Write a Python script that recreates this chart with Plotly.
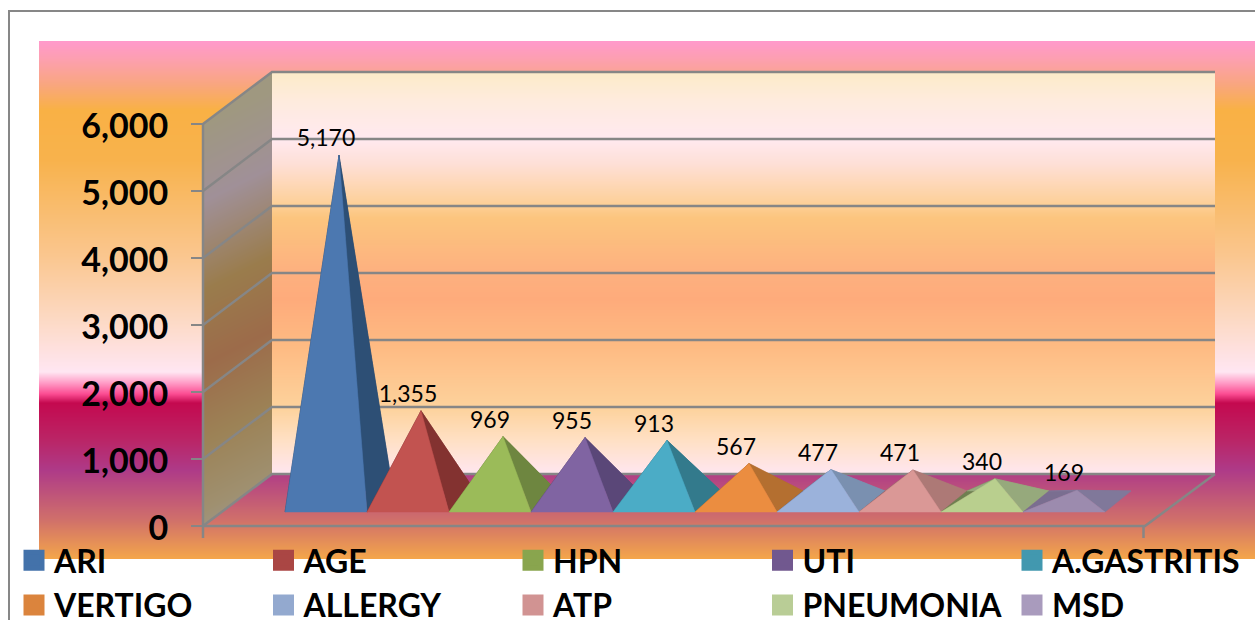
import plotly.graph_objects as go

# ---- data ----
categories = ["ARI", "AGE", "HPN", "UTI", "A.GASTRITIS", "VERTIGO", "ALLERGY", "ATP", "PNEUMONIA", "MSD"]
values = [5170, 1355, 969, 955, 913, 567, 477, 471, 340, 169]
y_ticks = [0, 1000, 2000, 3000, 4000, 5000, 6000]
front_colors = ["#4C78B0", "#C25350", "#9BBB59", "#8064A2", "#4BACC6", "#EB8D40", "#9BB2DB", "#DA9896", "#B9CF8E", "#9C8BAE"]
side_colors = ["#2D4F75", "#833230", "#6E8640", "#5A4778", "#337A8C", "#B46F30", "#7A90B0", "#AD7976", "#96A97C", "#80789A"]
back_colors = ["#263F5E", "#6A2826", "#5A6E34", "#4A3A62", "#2A6473", "#915A27", "#5F7390", "#8C6160", "#6E8050", "#7A6E90"]
legend_colors = ["#4372AA", "#AA4644", "#89A54E", "#71588F", "#4298AF", "#DB843D", "#93A9CF", "#D19392", "#B9CD96", "#A99BBD"]

W, H = 1255, 620
PX_CAT = 82.0      # pixels per category
PX_VAL = 0.067     # pixels per value unit
X0_PX = 326.0      # pixel of first category centre
Y0_PX = 526.0      # pixel of value 0 on the front plane


def X(px):
    return (px - X0_PX) / PX_CAT


def Y(py):
    return (Y0_PX - py) / PX_VAL


GRID = "#868686"
fig = go.Figure()


def scale(stops):
    a, b = stops[0][0], stops[-1][0]
    return [[(p - a) / (b - a), c] for p, c in stops]


def band(x0, x1, stops):
    a, b = stops[0][0], stops[-1][0]
    n = int(b - a)
    fig.add_trace(go.Heatmap(
        x=[X(x0), X(x1)], y=[Y(a + k) for k in range(n + 1)],
        z=[[(k + 0.5) / n] for k in range(n)], zmin=0, zmax=1,
        colorscale=scale(stops), showscale=False, hoverinfo="skip", zsmooth=False))


# page background band
band(39, 1255, [(41, "#FF99CC"), (58, "#FD9FB2"), (85, "#F9A67E"), (110, "#F9B145"), (160, "#F8B24C"),
                (255, "#FAC68E"), (315, "#FCD8C0"), (372, "#FFE6F2"), (383, "#FF9CC6"), (394, "#FB4C92"),
                (403, "#C4094F"), (440, "#BA2566"), (470, "#AE3A88"), (520, "#D0706A"), (559, "#F4A64A")])

# back wall
band(272, 1215, [(72, "#FCEBC8"), (100, "#FEEBDD"), (139, "#FFE9F0"), (165, "#FEDFD5"), (205, "#FDCF96"),
                 (218, "#FCC57E"), (273, "#FDB07F"), (300, "#FEAB7B"), (345, "#FEBA82"), (408, "#FDD29C"),
                 (440, "#FFE0C4"), (474, "#FFE6F0")])

# side wall: diagonal gradient clipped to the parallelogram
side_stops = [(124, "#9F9880"), (201, "#A09098"), (290, "#9A7C4C"), (364, "#9C6B4A"), (440, "#9C8256"), (510, "#9F9070"), (560, "#A09A9A")]
sx = list(range(203, 273))
sy = list(range(72, 527))
sz = []
for py in sy[:-1]:
    row = []
    for px in sx[:-1]:
        f = (px + 0.5 - 203) / 69.0
        if 124 - 52 * f <= py + 0.5 <= 526 - 52 * f:
            row.append(min(max((py + 0.5 * (px - 203) - 124) / (560 - 124), 0), 1))
        else:
            row.append(None)
    sz.append(row)
fig.add_trace(go.Heatmap(x=[X(p) for p in sx], y=[Y(p) for p in sy], z=sz, zmin=0, zmax=1,
                         colorscale=scale(side_stops), showscale=False, hoverinfo="skip", zsmooth=False))

# walls and gridlines
DX, DY = 69.0, 52.0
FX0, FX1 = 203.0, 1145.0
for v in y_ticks:
    py = Y0_PX - v * PX_VAL
    fig.add_trace(go.Scatter(
        x=[X(FX0), X(FX0 + DX), X(FX1 + DX + 1)], y=[Y(py), Y(py - DY), Y(py - DY)],
        mode="lines", line=dict(color=GRID, width=2.5), showlegend=False, hoverinfo="skip"))
edges = [
    ([FX0, FX0], [Y0_PX, Y0_PX - 6000 * PX_VAL]),
    ([FX0, FX0], [Y0_PX, 538]),
    ([FX1 - 1.5, FX1 - 1.5], [Y0_PX, 538]),
    ([FX0, FX1, FX1 + DX + 1], [Y0_PX, Y0_PX, Y0_PX - DY]),
]
for ex, ey in edges:
    fig.add_trace(go.Scatter(x=[X(p) for p in ex], y=[Y(p) for p in ey], mode="lines",
                             line=dict(color=GRID, width=2.5), showlegend=False, hoverinfo="skip"))

# pyramids
HALF = 0.5
DEPTH_X = 26 / PX_CAT
DEPTH_Y = 21 / PX_VAL
BASE = (Y0_PX - 512) / PX_VAL


def face(xs, ys, color):
    fig.add_trace(go.Scatter(x=xs, y=ys, mode="lines", fill="toself", fillcolor=color,
                             line=dict(color=color, width=0.5), showlegend=False, hoverinfo="skip"))


for i, v in enumerate(values):
    l, r = i - HALF, i + HALF
    ax, ay = i + DEPTH_X / 2, BASE + DEPTH_Y / 2 + v
    bl, br = l + DEPTH_X, r + DEPTH_X
    by = BASE + DEPTH_Y
    face([l, bl, ax, l], [BASE, by, ay, BASE], back_colors[i])
    face([bl, br, ax, bl], [by, by, ay, by], side_colors[i])
    face([r, br, ax, r], [BASE, by, ay, BASE], side_colors[i])
    face([l, r, ax, l], [BASE, BASE, ay, BASE], front_colors[i])

# data labels
fig.add_trace(go.Scatter(
    x=list(range(len(values))),
    y=[BASE + DEPTH_Y / 2 + v + 14.5 / PX_VAL for v in values],
    text=[f"{v:,}" for v in values], mode="text", textposition="middle center",
    textfont=dict(family="Lato", size=23, color="#000000"), showlegend=False, hoverinfo="skip"))

# legend entries
for name, color in zip(categories, legend_colors):
    fig.add_trace(go.Scatter(x=[None], y=[None], mode="markers", name=name,
                             marker=dict(symbol="square", size=16, color=color, line=dict(color=color, width=5))))

fig.update_layout(
    width=W, height=H, autosize=False,
    margin=dict(l=0, r=0, t=0, b=0, pad=0, autoexpand=False),
    paper_bgcolor="#FFFFFF", plot_bgcolor="rgba(0,0,0,0)",
    xaxis=dict(range=[X(0), X(W)], visible=False, domain=[0, 1], fixedrange=True),
    yaxis=dict(range=[Y(H), Y(0)], domain=[0, 1], anchor="free", position=203 / W, side="left",
               tickmode="array", tickvals=y_ticks, tickformat=",", showgrid=False, zeroline=False,
               showline=False, ticks="outside", ticklen=12, tickwidth=2, tickcolor=GRID,
               ticklabelstandoff=16, ticklabelshift=2,
               tickfont=dict(family="Lato", size=34, color="#000000", weight="bold"), fixedrange=True),
    legend=dict(orientation="h", x=14 / W, xanchor="left", y=1 - 533 / H, yanchor="top",
                entrywidth=204.5, entrywidthmode="pixels", font=dict(family="Lato", size=32, color="#000000", weight="bold"),
                bgcolor="rgba(0,0,0,0)", borderwidth=0, traceorder="normal", itemclick=False, itemdoubleclick=False),
    shapes=[dict(type="rect", xref="paper", yref="paper", x0=9 / W, x1=1.01, y0=1 - 11 / H, y1=-0.01,
                 line=dict(color="#878787", width=2), fillcolor="rgba(0,0,0,0)", layer="below")],
    showlegend=True,
)
fig.write_html("out.html", config={"displayModeBar": False},
               post_script="document.body.style.margin='0';document.documentElement.style.overflow='hidden';")
